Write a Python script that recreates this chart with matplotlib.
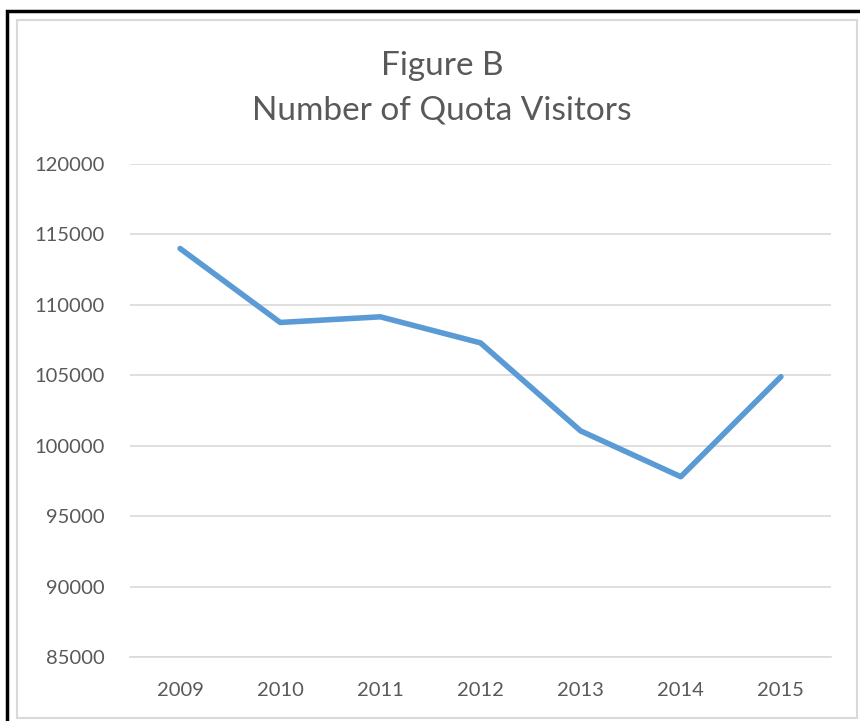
import matplotlib.pyplot as plt
from matplotlib.patches import Rectangle

years = ['2009', '2010', '2011', '2012', '2013', '2014', '2015']
visitors = [114000, 108750, 109150, 107300, 101050, 97800, 104900]
yticks = [85000, 90000, 95000, 100000, 105000, 110000, 115000, 120000]

W, H = 860, 721
fig = plt.figure(figsize=(W / 100, H / 100), dpi=100)

# outer black frame (left/top) and grey chart border
fig.patches.append(Rectangle((7 / W, -0.01), 1.1, (H - 11) / H + 0.01, transform=fig.transFigure,
                             fill=False, edgecolor='black', linewidth=2.5))
fig.patches.append(Rectangle((17 / W, 1 - 718 / H), (857 - 17) / W, (718 - 20) / H,
                             transform=fig.transFigure, fill=False, edgecolor='#d9d9d9', linewidth=1.5))

ax = fig.add_axes([130 / W, 1 - 657 / H, (831 - 130) / W, (657 - 164) / H])
x = range(len(years))
ax.plot(x, visitors, color='#5b9bd5', linewidth=4, solid_capstyle='round', solid_joinstyle='round')
ax.set_xlim(-0.5, len(years) - 0.5)
ax.set_ylim(85000, 120000)
ax.set_yticks(yticks)
ax.set_yticklabels([str(t) for t in yticks])
ax.set_xticks(list(x))
ax.set_xticklabels(years)
ax.yaxis.grid(True, color='#d9d9d9', linewidth=1.2)
ax.set_axisbelow(True)
for s in ['top', 'right', 'left']:
    ax.spines[s].set_visible(False)
ax.spines['bottom'].set_color('#d9d9d9')
ax.spines['bottom'].set_linewidth(1.2)
ax.tick_params(length=0, labelsize=14.5, colors='#595959')
ax.tick_params(axis='y', pad=18)
ax.tick_params(axis='x', pad=18)
for lab in ax.get_xticklabels() + ax.get_yticklabels():
    lab.set_fontfamily('Lato')

fig.text(442 / W, 1 - 66 / H, 'Figure B', ha='center', va='center', fontsize=24,
         color='#595959', family='Lato')
fig.text(442 / W, 1 - 110 / H, 'Number of Quota Visitors', ha='center', va='center', fontsize=24,
         color='#595959', family='Lato')

fig.savefig('out.png', dpi=100)
